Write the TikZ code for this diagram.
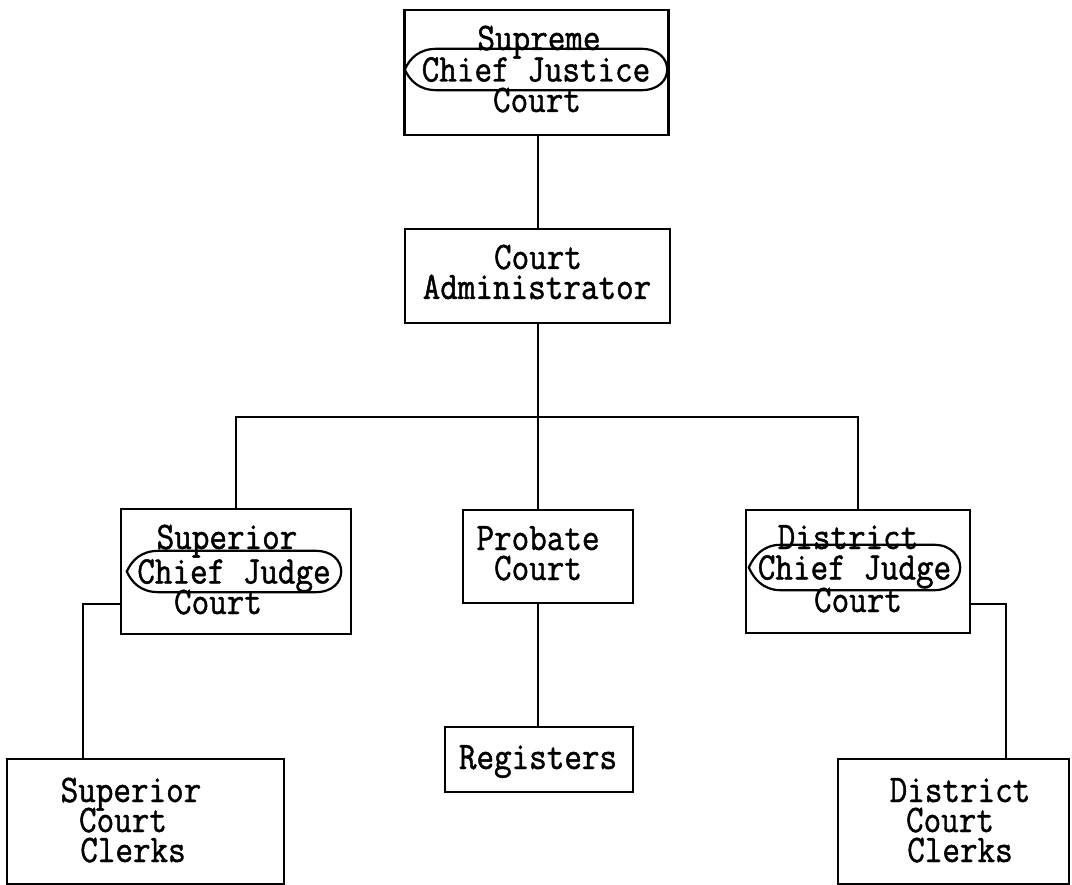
\documentclass[tikz,border=0pt]{standalone}
\usepackage{fontspec}
\newfontfamily\tw[FakeStretch=0.875,FakeBold=1.2]{Latin Modern Mono}
\begin{document}
\begin{tikzpicture}[x=1pt,y=-1pt,
  box/.style={draw,line width=2.3pt,inner sep=0pt},
  txt/.style={font=\tw\fontsize{39}{30}\selectfont,inner sep=0pt,text height=24pt,text depth=0pt},
  lensnode/.style={txt,minimum height=#1},
  lensline/.style={line width=2.2pt},
  conn/.style={line width=2.3pt}]
\useasboundingbox[fill=white] (0,0) rectangle (1072,885);
\newcommand\drawlens[1]{%
  \draw[lensline] (#1.west) .. controls ([xshift=5pt,yshift=11pt]#1.west) and ([xshift=14pt]#1.north west) .. ([xshift=32pt]#1.north west)
   -- ([xshift=-26pt]#1.north east) .. controls ([xshift=-9pt]#1.north east) and ([yshift=11pt]#1.east) .. (#1.east)
   .. controls ([yshift=-11pt]#1.east) and ([xshift=-9pt]#1.south east) .. ([xshift=-26pt]#1.south east)
   -- ([xshift=32pt]#1.south west) .. controls ([xshift=14pt]#1.south west) and ([xshift=5pt,yshift=-11pt]#1.west) .. (#1.west) -- cycle;}
% boxes
\node[box,minimum width=264pt,minimum height=125pt] (sup) at (536.5,72.5) {};
\node[box,minimum width=265pt,minimum height=94pt] (ca) at (537.5,276) {};
\node[box,minimum width=230pt,minimum height=125pt] (supr) at (236,571.5) {};
\node[box,minimum width=170pt,minimum height=93pt] (prob) at (548,556.5) {};
\node[box,minimum width=224pt,minimum height=123pt] (dist) at (858,571.5) {};
\node[box,minimum width=188pt,minimum height=65pt] (reg) at (539,759.5) {};
\node[box,minimum width=277pt,minimum height=125pt] (sclk) at (145.5,821.5) {};
\node[box,minimum width=231pt,minimum height=125pt] (dclk) at (953.5,821.5) {};
% texts
\node[txt] (sup1) at (539,38) {Supreme};
\node[lensnode=41pt,minimum width=262pt] (supl) at (536,69.5) {Chief Justice};
\node[txt] (sup3) at (537,100) {Court};
\node[txt] (ca1) at (538,257) {Court};
\node[txt] (ca2) at (537,287) {Administrator};
\node[txt] (supr1) at (227,537) {Superior};
\node[lensnode=41pt,minimum width=214pt] (suprl) at (234,571.5) {Chief Judge};
\node[txt] (supr3) at (218,602) {Court};
\node[txt] (prob1) at (538,538) {Probate};
\node[txt] (prob2) at (538,568) {Court};
\node[txt] (dist1) at (848,537) {District};
\node[lensnode=45pt,minimum width=211pt] (distl) at (854.5,567.5) {Chief Judge};
\node[txt] (dist3) at (858,600) {Court};
\node[txt] (reg1) at (538,757) {Registers};
\node[txt] (sclk1) at (131,790) {Superior};
\node[txt] (sclk2) at (123,820) {Court};
\node[txt] (sclk3) at (133,850) {Clerks};
\node[txt] (dclk1) at (960,790) {District};
\node[txt] (dclk2) at (950,820) {Court};
\node[txt] (dclk3) at (960,850) {Clerks};
\drawlens{supl}
\drawlens{suprl}
\drawlens{distl}
% connectors
\coordinate (bus) at (538,417);
\coordinate (sk) at (83,604);
\coordinate (dk) at (1006,604);
\draw[conn] (sup.south -| bus) -- (ca.north -| bus);
\draw[conn] (ca.south -| bus) -- (bus);
\draw[conn] (supr.north) -- (supr.north |- bus) -- (dist.north |- bus) -- (dist.north);
\draw[conn] (bus) -- (bus |- prob.north);
\draw[conn] (bus |- prob.south) -- (bus |- reg.north);
\draw[conn] (sk -| supr.west) -- (sk) -- (sk |- sclk.north);
\draw[conn] (dk -| dist.east) -- (dk) -- (dk |- dclk.north);
\end{tikzpicture}
\end{document}
